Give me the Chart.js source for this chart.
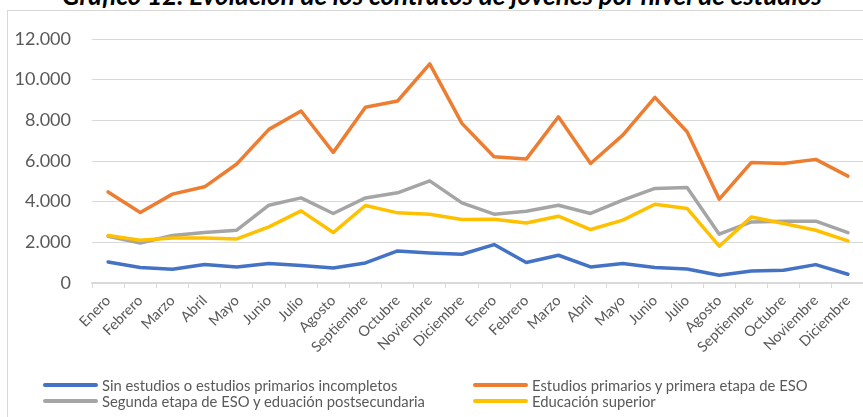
<!DOCTYPE html>
<html>
<head>
<meta charset="utf-8">
<script src="https://cdn.jsdelivr.net/npm/chart.js@4.4.0/dist/chart.umd.min.js"></script>
<style>
  html, body { margin: 0; padding: 0; background: #fff; }
  body { width: 863px; height: 417px; overflow: hidden; position: relative; font-family: Lato, 'Liberation Sans', sans-serif; }
  #frame { position: absolute; left: 7px; top: 10px; width: 900px; height: 420px; border-left: 1px solid #d9d9d9; border-top: 1px solid #d9d9d9; }
  #title { position: absolute; left: 0; width: 884px; top: -18px; line-height: 26px; text-align: center; font-size: 26px; font-weight: bold; font-style: italic; color: #000; white-space: nowrap; }
  #chart { position: absolute; left: 0; top: 0; }
  #legend { position: absolute; left: 0; top: 0; width: 863px; height: 417px; pointer-events: none; }
  .item { position: absolute; height: 16px; display: flex; align-items: center; }
  .swatch { width: 55px; height: 4px; border-radius: 2px; margin-right: 4px; }
  .label { font-size: 14.8px; color: #595959; white-space: nowrap; }
</style>
</head>
<body>
<div id="frame"></div>
<div id="title">Gráfico 12. Evolución de los contratos de jóvenes por nivel de estudios</div>
<canvas id="chart" width="880" height="370"></canvas>
<div id="legend"></div>
<script>
const months = ['Enero', 'Febrero', 'Marzo', 'Abril', 'Mayo', 'Junio', 'Julio', 'Agosto',
    'Septiembre', 'Octubre', 'Noviembre', 'Diciembre']
const categories = months.concat(months)

const yTickLabels = ['0', '2.000', '4.000', '6.000', '8.000', '10.000', '12.000']

const sinEstudios = [1035, 760, 675, 905, 790, 955, 855, 740, 985, 1575, 1480, 1415,
    1890, 1005, 1365, 790, 955, 760, 690, 380, 590, 625, 905, 430]
const primariosEso = [4480, 3470, 4370, 4730, 5850, 7555, 8460, 6425, 8640, 8950, 10775, 7850,
    6205, 6095, 8175, 5880, 7275, 9130, 7440, 4125, 5930, 5880, 6080, 5255]
const segundaEtapa = [2300, 1970, 2335, 2480, 2595, 3825, 4185, 3420, 4185, 4435, 5025, 3940,
    3385, 3530, 3825, 3420, 4075, 4650, 4700, 2400, 3005, 3040, 3040, 2480]
const superior = [2340, 2105, 2215, 2215, 2170, 2760, 3545, 2480, 3810, 3450, 3385, 3125,
    3140, 2955, 3285, 2630, 3090, 3875, 3665, 1810, 3250, 2925, 2595, 2070]

const seriesNames = ['Sin estudios o estudios primarios incompletos', 'Estudios primarios y primera etapa de ESO',
    'Segunda etapa de ESO y eduación postsecundaria', 'Educación superior']
const seriesColors = ['#4472C4', '#ED7D31', '#A5A5A5', '#FFC000']

Chart.defaults.font.family = "Lato, 'Liberation Sans', sans-serif"

const line = (i, data) => ({
    label: seriesNames[i],
    data: data,
    borderColor: seriesColors[i],
    backgroundColor: seriesColors[i],
    borderWidth: 3.5,
    pointRadius: 0,
    tension: 0,
    borderCapStyle: 'round',
    borderJoinStyle: 'round',
    order: 3 - i
})

const ctx = document.getElementById('chart').getContext('2d')

const chart = new Chart(ctx, {
    type: 'line',
    data: {
        labels: categories,
        datasets: [
            line(0, sinEstudios),
            line(1, primariosEso),
            line(2, segundaEtapa),
            line(3, superior)
        ]
    },
    options: {
        responsive: false,
        animation: false,
        devicePixelRatio: 1,
        layout: { padding: { top: 39, right: 16, left: 0, bottom: 0 } },
        plugins: {
            legend: { display: false },
            title: { display: false },
            tooltip: { enabled: false }
        },
        scales: {
            x: {
                offset: true,
                grid: { offset: true, drawOnChartArea: false, drawTicks: true, tickLength: 5, color: '#d9d9d9' },
                border: { display: true, color: '#d9d9d9', width: 1.5 },
                ticks: {
                    autoSkip: false, minRotation: 45, maxRotation: 45,
                    color: '#595959', font: { size: 14.5 }, padding: 4
                },
                afterFit: (scale) => { scale.height = 87 }
            },
            y: {
                min: 0,
                max: 12000,
                grid: { drawTicks: false, color: '#d9d9d9', lineWidth: 1 },
                border: { display: false },
                ticks: {
                    stepSize: 2000,
                    color: '#595959',
                    font: { size: 18 },
                    padding: 21,
                    callback: (value) => yTickLabels[value / 2000]
                },
                afterFit: (scale) => { scale.width = 92 }
            }
        }
    }
})

// legend in two columns, like the original
const legendPos = [[43, 377], [473, 377], [43, 393], [473, 393]]
const legendBox = document.getElementById('legend')
chart.data.datasets.forEach((ds, i) => {
    const item = document.createElement('div')
    item.className = 'item'
    item.style.left = legendPos[i][0] + 'px'
    item.style.top = legendPos[i][1] + 'px'
    const sw = document.createElement('span')
    sw.className = 'swatch'
    sw.style.background = ds.borderColor
    const txt = document.createElement('span')
    txt.className = 'label'
    txt.textContent = ds.label
    item.appendChild(sw)
    item.appendChild(txt)
    legendBox.appendChild(item)
})
</script>
</body>
</html>
